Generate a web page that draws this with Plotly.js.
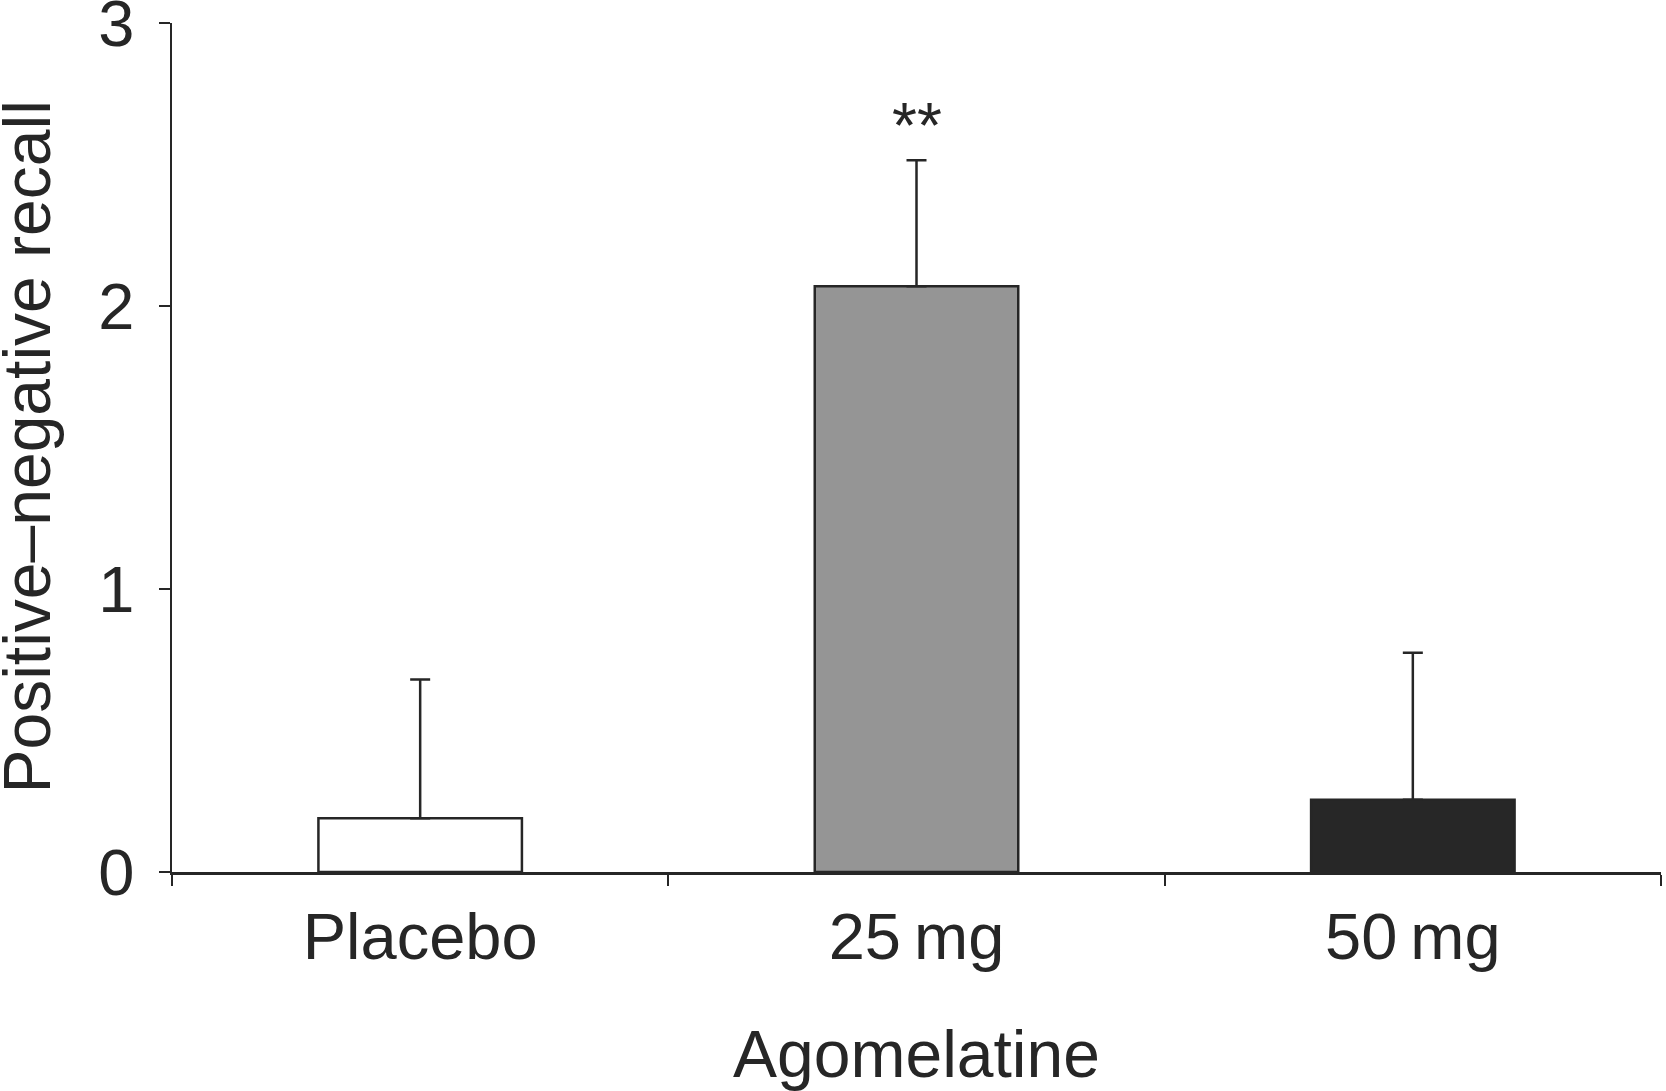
<!DOCTYPE html>
<html>
<head>
<meta charset="utf-8">
<script src="https://cdn.plot.ly/plotly-3.0.1.min.js"></script>
<style>
  html, body { margin: 0; padding: 0; background: #fff; }
  #graph { width: 1666px; height: 1091px; }
</style>
</head>
<body>
<div id="graph"></div>
<script>
var groups = ['Placebo', '25\u2009mg', '50\u2009mg'];
var recall = [0.19, 2.07, 0.255];
var sem = [0.49, 0.445, 0.52];
var barColors = ['#ffffff', '#959595', '#272727'];
var yTicks = [0, 1, 2, 3];
var starLabel = '**';
var starY = 2.635;
var yTitle = 'Positive\u2013negative recall';

var ink = '#262626';
var font = 'Liberation Sans, Arial, Helvetica, sans-serif';

var trace = {
    type: 'bar',
    x: groups,
    y: recall,
    marker: {
        color: barColors,
        line: { color: ink, width: 2.5 }
    },
    error_y: {
        type: 'data',
        symmetric: false,
        array: sem,
        arrayminus: [0, 0, 0],
        color: ink,
        thickness: 2.5,
        width: 10
    },
    hoverinfo: 'none'
};

var layout = {
    width: 1666,
    height: 1091,
    margin: { l: 172, r: 5, t: 23, b: 219 },
    paper_bgcolor: '#ffffff',
    plot_bgcolor: '#ffffff',
    showlegend: false,
    bargap: 0.59,
    font: { family: font, color: ink },
    xaxis: {
        type: 'category',
        tickson: 'boundaries',
        ticks: 'outside',
        ticklen: 11,
        tickwidth: 2,
        tickcolor: ink,
        showline: true,
        linecolor: ink,
        linewidth: 2.5,
        showgrid: false,
        zeroline: false,
        tickfont: { size: 65, color: ink, family: font },
        ticklabelstandoff: 6,
        automargin: false,
        title: { text: 'Agomelatine', font: { size: 66, color: ink, family: font }, standoff: 60 }
    },
    yaxis: {
        range: [0, 3],
        tickvals: yTicks,
        ticktext: yTicks.map(String),
        ticks: 'outside',
        ticklen: 11,
        tickwidth: 2,
        tickcolor: ink,
        showline: true,
        linecolor: ink,
        linewidth: 2.5,
        showgrid: false,
        zeroline: false,
        tickfont: { size: 65, color: ink, family: font },
        ticklabelstandoff: 11,
        ticklabeloverflow: 'allow',
        automargin: false
    },
    annotations: [{
        x: groups[1],
        y: starY,
        xref: 'x',
        yref: 'y',
        text: starLabel,
        showarrow: false,
        font: { size: 64, color: ink, family: font },
        xanchor: 'center',
        yanchor: 'middle'
    }, {
        x: -0.098,
        y: 0.5,
        xref: 'paper',
        yref: 'paper',
        text: yTitle,
        textangle: -90,
        showarrow: false,
        font: { size: 66, color: ink, family: font },
        xanchor: 'center',
        yanchor: 'middle'
    }]
};

Plotly.newPlot('graph', [trace], layout, { displayModeBar: false, staticPlot: true });
</script>
</body>
</html>
